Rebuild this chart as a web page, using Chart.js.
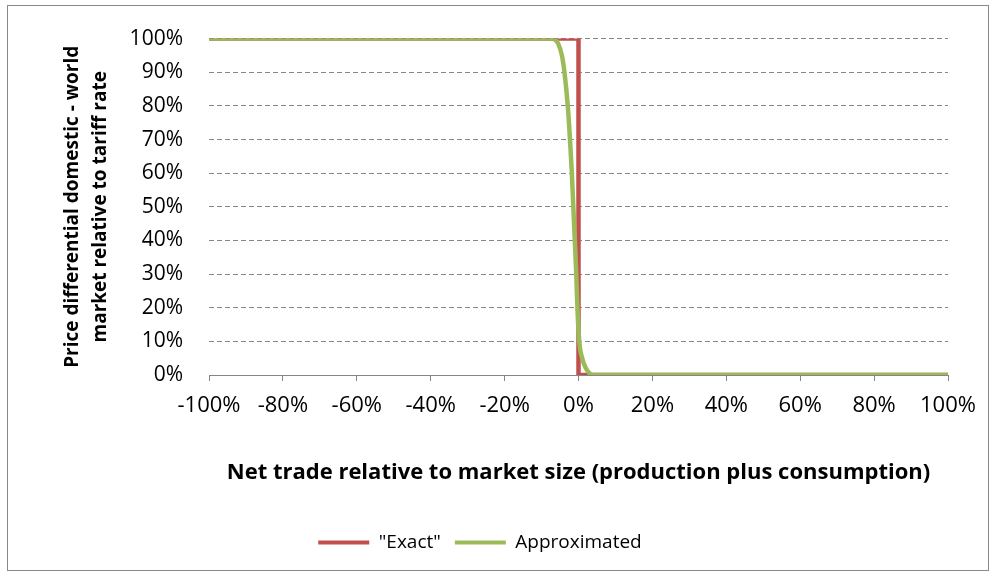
<!DOCTYPE html>
<html>
<head>
<meta charset="utf-8">
<script src="https://cdn.jsdelivr.net/npm/chart.js@4"></script>
<style>
    body { margin: 0; background: #fff; }
    #wrap { position: relative; width: 995px; height: 576px; }
    #frame { position: absolute; left: 7px; top: 5px; width: 980px; height: 564px; border: 1px solid #898989; }
    #chart { position: absolute; left: 0; top: 0; }
</style>
</head>
<body>
<div id="wrap">
    <div id="frame"></div>
    <canvas id="chart" width="995" height="576"></canvas>
</div>
<script>
// net trade (% of market size) -> price differential (% of tariff)
const exactX = [-100, 0, 0, 100];
const exactY = [100, 100, 0, 0];

const approxX = [-100, -7, -6.5, -5.5, -4.5, -3.8, -2.9, -2.3, -1.8, -1.4, -1.0, -0.6, -0.3, 0.2, 1.0, 2.0, 3.0, 4.0, 100];
const approxY = [100, 100, 99.8, 98.5, 95, 90, 80, 70, 60, 50, 40, 30, 20, 10, 5, 2, 0.5, 0, 0];

const seriesNames = ['"Exact"', 'Approximated'];

function toPoints(xs, ys) {
    return xs.map((x, i) => ({ x: x, y: ys[i] }));
}

const FONT = "'Open Sans', 'Noto Sans', sans-serif";
const GRID = '#868686';

function initTariffChart() {
    const ctx = document.getElementById('chart');
    if (!ctx) return;

    return new Chart(ctx, {
        type: 'line',
        data: {
            datasets: [
                {
                    label: seriesNames[0],
                    data: toPoints(exactX, exactY),
                    borderColor: '#C0504D',
                    backgroundColor: '#C0504D',
                    borderWidth: 4.5,
                    pointRadius: 0,
                    tension: 0,
                    order: 1
                },
                {
                    label: seriesNames[1],
                    data: toPoints(approxX, approxY),
                    borderColor: '#9BBB59',
                    backgroundColor: '#9BBB59',
                    borderWidth: 4.5,
                    pointRadius: 0,
                    cubicInterpolationMode: 'monotone',
                    order: 0
                }
            ]
        },
        options: {
            responsive: false,
            animation: false,
            layout: { padding: { top: 35, right: 47, left: 12, bottom: 14 } },
            scales: {
                x: {
                    type: 'linear',
                    min: -100,
                    max: 100,
                    afterFit: scale => { scale.height = 144; },
                    ticks: {
                        stepSize: 20,
                        autoSkip: false,
                        maxRotation: 0,
                        padding: 12,
                        color: '#000',
                        font: { family: FONT, size: 22 },
                        callback: value => value + '%'
                    },
                    grid: { drawOnChartArea: false, drawTicks: true, tickLength: 6, color: GRID },
                    border: { display: true, color: GRID, width: 1 },
                    title: {
                        display: true,
                        text: 'Net trade relative to market size (production plus consumption)',
                        color: '#000',
                        font: { family: FONT, size: 22, weight: 'bold' },
                        padding: { top: 4, bottom: 33 }
                    }
                },
                y: {
                    min: 0,
                    max: 100,
                    afterFit: scale => { scale.width = 197; },
                    ticks: {
                        stepSize: 10,
                        autoSkip: false,
                        padding: 26,
                        color: '#000',
                        font: { family: FONT, size: 21 },
                        callback: value => value + '%'
                    },
                    grid: { color: GRID, drawTicks: false, lineWidth: 1 },
                    border: { display: false, dash: [5, 3] },
                    title: {
                        display: true,
                        text: ['Price differential domestic - world', 'market relative to tariff rate'],
                        color: '#000',
                        font: { family: FONT, size: 19, weight: 'bold', lineHeight: 1.5 },
                        padding: { top: 46, bottom: 0 }
                    }
                }
            },
            plugins: {
                legend: {
                    position: 'bottom',
                    labels: {
                        boxWidth: 51,
                        boxHeight: 4,
                        padding: 14,
                        color: '#000',
                        font: { family: FONT, size: 19 },
                        sort: (a, b) => a.datasetIndex - b.datasetIndex,
                        generateLabels: chart => {
                            const items = Chart.defaults.plugins.legend.labels.generateLabels(chart);
                            items.forEach(item => { item.lineWidth = 0; });
                            return items;
                        }
                    }
                },
                tooltip: { enabled: false }
            }
        }
    });
}

initTariffChart();
</script>
</body>
</html>
